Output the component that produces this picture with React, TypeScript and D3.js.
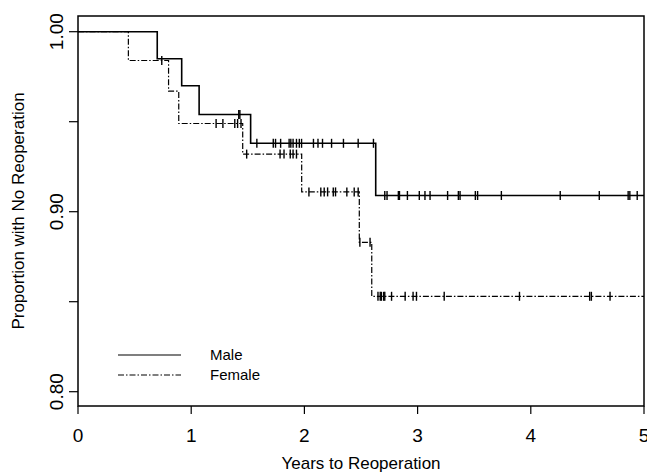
import React from "react";
import * as d3 from "d3";

// Kaplan-Meier step data: [time, survival after drop]
const maleEvents: [number, number][] = [
  [0.7, 0.985],
  [0.916, 0.97],
  [1.07, 0.954],
  [1.525, 0.938],
  [2.63, 0.909],
];
const maleCensored: number[] = [
  1.42, 1.43, 1.58, 1.725, 1.745, 1.79, 1.865, 1.88, 1.9, 1.93, 1.955, 1.975,
  2.08, 2.12, 2.16, 2.24, 2.345, 2.475, 2.61, 2.71, 2.73, 2.83, 2.84, 2.91,
  3.015, 3.065, 3.11, 3.265, 3.36, 3.375, 3.51, 3.53, 3.74, 4.26, 4.605, 4.86,
  4.875, 4.94,
];
const femaleEvents: [number, number][] = [
  [0.445, 0.984],
  [0.8, 0.967],
  [0.89, 0.949],
  [1.455, 0.932],
  [1.976, 0.911],
  [2.485, 0.883],
  [2.595, 0.853],
];
const femaleCensored: number[] = [
  0.74, 1.22, 1.28, 1.385, 1.41, 1.44, 1.49, 1.785, 1.82, 1.875, 1.9, 1.93,
  2.04, 2.145, 2.175, 2.205, 2.255, 2.275, 2.375, 2.44, 2.475, 2.49, 2.58,
  2.65, 2.67, 2.68, 2.7, 2.71, 2.77, 2.89, 2.96, 2.99, 3.235, 3.9, 4.52, 4.535,
  4.7,
];
const xTicks = [0, 1, 2, 3, 4, 5];
const yTicks = [0.8, 0.85, 0.9, 0.95, 1.0];
const yLabels = ["0.80", "", "0.90", "", "1.00"];
const legendItems = ["Male", "Female"];

const W = 647;
const H = 472;
const left = 78;
const right = 644;
const top = 16;
const bottom = 406;

const x = d3.scaleLinear().domain([0, 5]).range([left, right]);
const y = d3.scaleLinear().domain([0.80, 1.0]).range([391.7, 31.7]);

function stepPoints(events: [number, number][]): [number, number][] {
  const pts: [number, number][] = [[0, 1]];
  let cur = 1;
  for (const [t, s] of events) {
    pts.push([t, cur]);
    pts.push([t, s]);
    cur = s;
  }
  pts.push([5, cur]);
  return pts;
}

function survAt(events: [number, number][], t: number): number {
  let cur = 1;
  for (const [et, s] of events) {
    if (et <= t) cur = s;
  }
  return cur;
}

const line = d3
  .line<[number, number]>()
  .x((d) => x(d[0]))
  .y((d) => y(d[1]));

const FONT = "'Liberation Sans', Arial, sans-serif";
const femaleDash = "6,2,1.5,2";

export default function App() {
  const malePath = line(stepPoints(maleEvents)) || "";
  const femalePath = line(stepPoints(femaleEvents)) || "";
  return (
    <svg
      width={W}
      height={H}
      style={{ position: "absolute", left: 0, top: 0, background: "#fff" }}
      fontFamily={FONT}
    >
      <rect x={0} y={0} width={W} height={H} fill="#fff" />
      {/* frame */}
      <rect
        x={left}
        y={top}
        width={right - left}
        height={bottom - top}
        fill="none"
        stroke="#000"
        strokeWidth={1.5}
      />
      {/* y ticks */}
      {yTicks.map((v, i) => (
        <g key={"yt" + i}>
          <line x1={left - 9} x2={left} y1={y(v)} y2={y(v)} stroke="#000" strokeWidth={1.2} />
          {yLabels[i] && (
            <text
              transform={`translate(${left - 15},${y(v)}) rotate(-90)`}
              textAnchor="middle"
              fontSize={19}
              fill="#000"
            >
              {yLabels[i]}
            </text>
          )}
        </g>
      ))}
      {/* x ticks */}
      {xTicks.map((v) => (
        <g key={"xt" + v}>
          <line x1={x(v)} x2={x(v)} y1={bottom} y2={bottom + 8} stroke="#000" strokeWidth={1.2} />
          <text x={x(v)} y={bottom + 36} textAnchor="middle" fontSize={19} fill="#000">
            {v}
          </text>
        </g>
      ))}
      <text x={(left + right) / 2} y={469} textAnchor="middle" fontSize={17} fill="#000">
        Years to Reoperation
      </text>
      <text
        transform={`translate(24,${(top + bottom) / 2}) rotate(-90)`}
        textAnchor="middle"
        fontSize={17}
        fill="#000"
      >
        Proportion with No Reoperation
      </text>
      {/* curves */}
      <path d={femalePath} fill="none" stroke="#000" strokeWidth={1.2} strokeDasharray={femaleDash} />
      <path d={malePath} fill="none" stroke="#000" strokeWidth={1.6} />
      {/* censor marks */}
      {maleCensored.map((t, i) => (
        <line
          key={"mc" + i}
          x1={x(t)}
          x2={x(t)}
          y1={y(survAt(maleEvents, t)) - 4.5}
          y2={y(survAt(maleEvents, t)) + 4.5}
          stroke="#000"
          strokeWidth={1.4}
        />
      ))}
      {femaleCensored.map((t, i) => (
        <line
          key={"fc" + i}
          x1={x(t)}
          x2={x(t)}
          y1={y(survAt(femaleEvents, t)) - 4.5}
          y2={y(survAt(femaleEvents, t)) + 4.5}
          stroke="#000"
          strokeWidth={1.4}
        />
      ))}
      {/* legend */}
      {legendItems.map((name, i) => (
        <g key={name}>
          <line
            x1={118}
            x2={181}
            y1={355 + i * 20}
            y2={355 + i * 20}
            stroke="#000"
            strokeWidth={i === 0 ? 1.2 : 1.1}
            strokeDasharray={i === 0 ? undefined : femaleDash}
          />
          <text x={210} y={355 + i * 20 + 5} fontSize={15} fill="#000">
            {name}
          </text>
        </g>
      ))}
    </svg>
  );
}
